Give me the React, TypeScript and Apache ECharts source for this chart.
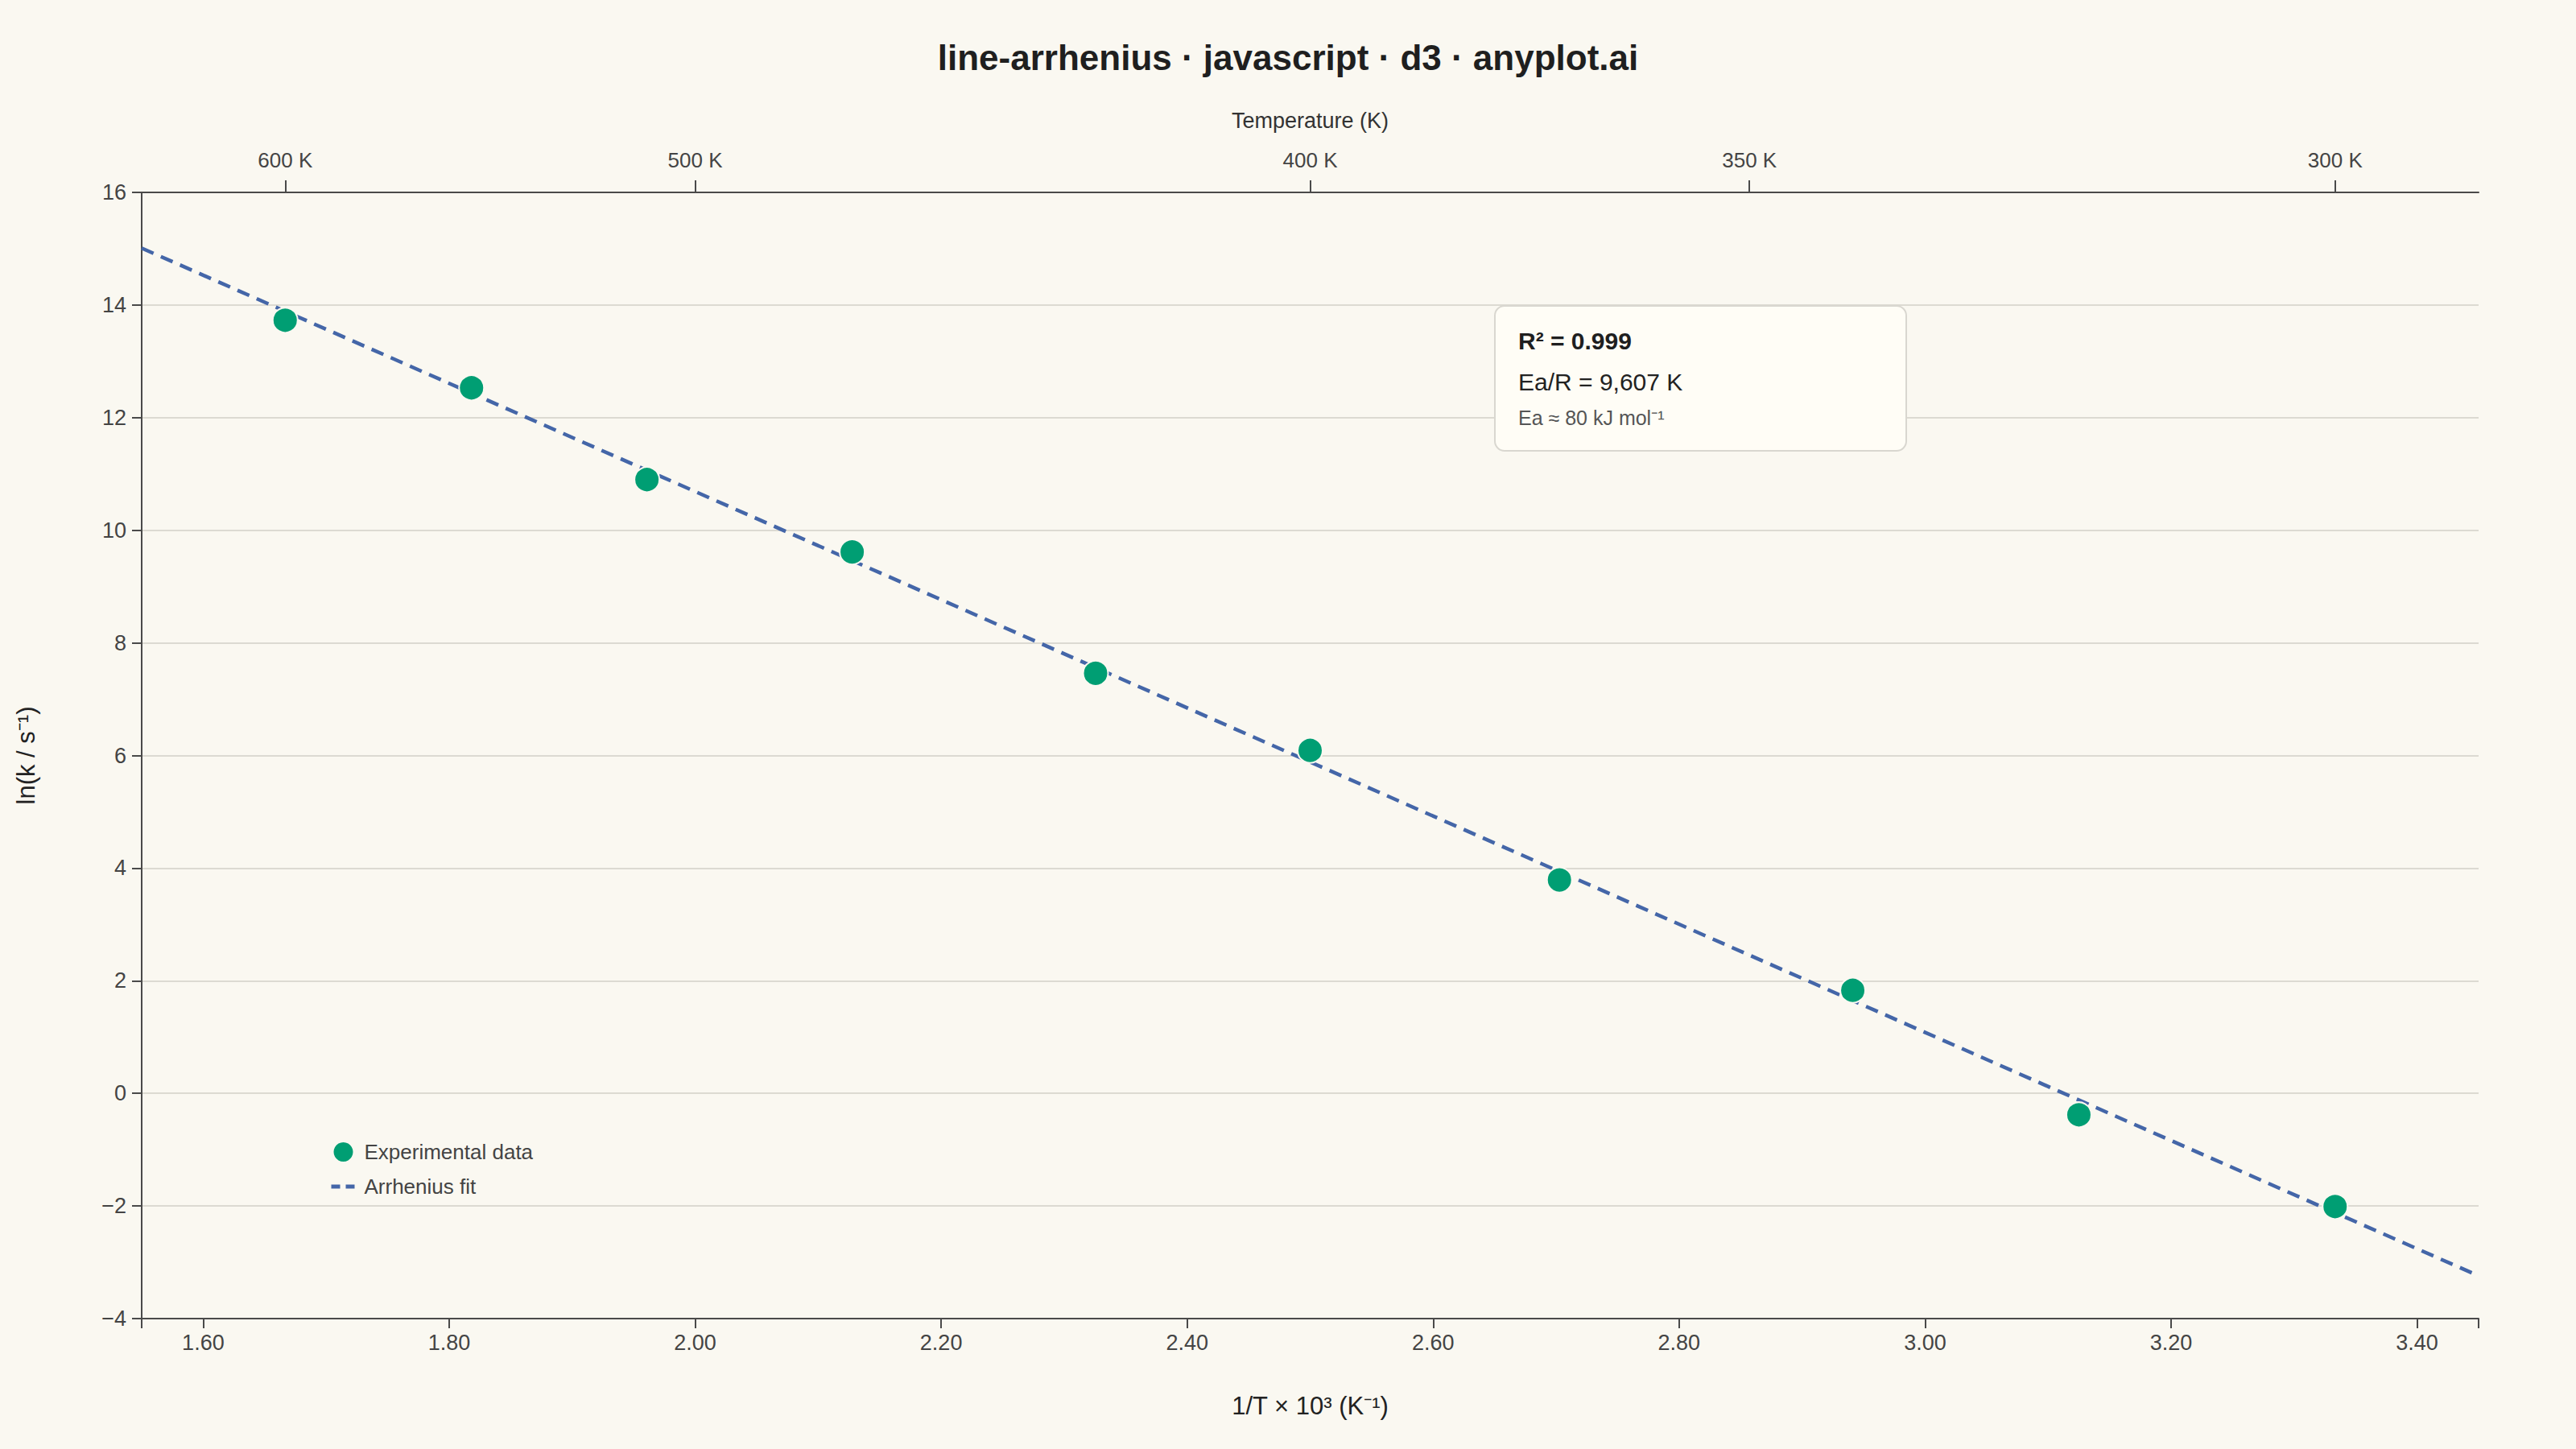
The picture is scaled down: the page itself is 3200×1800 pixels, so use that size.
import React, { useEffect, useRef } from "react";
import * as echarts from "echarts";

// Data
const temperaturesK = [600, 550, 510, 470, 430, 400, 370, 340, 320, 300];
const lnK = [13.73, 12.53, 10.9, 9.615, 7.46, 6.09, 3.79, 1.83, -0.38, -2.01];
const fitX = [1.55, 3.45];
const fitY = [15.01, -3.24];
const bottomTicks = [1.6, 1.8, 2.0, 2.2, 2.4, 2.6, 2.8, 3.0, 3.2, 3.4];
const topTempTicks = [600, 500, 400, 350, 300];
const annotationLines = ["R² = 0.999", "Ea/R = 9,607 K", "Ea ≈ 80 kJ mol⁻¹"];

const FONT = "'Liberation Sans', Arial, Helvetica, sans-serif";
const BG = "#FAF8F1";
const X_MIN = 1.55;
const X_MAX = 3.45;

export default function App() {
  const ref = useRef<HTMLDivElement>(null);
  useEffect(() => {
    document.body.style.margin = "0";
    document.body.style.background = BG;
    const chart = echarts.init(ref.current!, null, { renderer: "svg" });
    const points = temperaturesK.map((t, i) => [1000 / t, lnK[i]]);
    const fitLine = fitX.map((x, i) => [x, fitY[i]]);
    const topVals = topTempTicks.map((t) => 1000 / t);
    chart.setOption({
      animation: false,
      backgroundColor: BG,
      textStyle: { fontFamily: FONT },
      title: {
        text: "line-arrhenius · javascript · d3 · anyplot.ai",
        left: "center",
        top: 44,
        textStyle: { fontFamily: FONT, fontSize: 44, fontWeight: "bold", color: "#1F1F1F" },
      },
      grid: { left: 176, right: 121, top: 239, bottom: 162, containLabel: false },
      legend: {
        orient: "vertical",
        left: 409,
        top: 1418,
        padding: 0,
        itemWidth: 30,
        itemHeight: 24,
        itemGap: 17,
        textStyle: { fontFamily: FONT, fontSize: 26, color: "#444", padding: [0, 0, 0, 6] },
        data: [
          { name: "Experimental data", icon: "circle", itemStyle: { borderWidth: 0 } },
          {
            name: "Arrhenius fit",
            itemStyle: { opacity: 0 },
            lineStyle: { type: [11, 7], width: 5, color: "#4466A8" },
          },
        ],
      },
      xAxis: [
        {
          type: "value",
          position: "bottom",
          min: X_MIN,
          max: X_MAX,
          name: "1/T × 10³ (K⁻¹)",
          nameLocation: "middle",
          nameGap: 93,
          nameTextStyle: { fontFamily: FONT, fontSize: 31, color: "#222" },
          axisLine: { show: true, onZero: false, lineStyle: { color: "#4A4A4A", width: 2 } },
          axisTick: {
            show: true,
            length: 12,
            customValues: [X_MIN, ...bottomTicks, X_MAX],
            lineStyle: { color: "#4A4A4A", width: 2 },
          },
          axisLabel: {
            customValues: bottomTicks,
            margin: 16,
            fontFamily: FONT,
            fontSize: 27,
            color: "#444",
            formatter: (v: number) => v.toFixed(2),
          },
          splitLine: { show: false },
        },
        {
          type: "value",
          position: "top",
          min: X_MIN,
          max: X_MAX,
          name: "Temperature (K)",
          nameLocation: "middle",
          nameGap: 76,
          nameTextStyle: { fontFamily: FONT, fontSize: 27, color: "#333" },
          axisLine: { show: true, onZero: false, lineStyle: { color: "#4A4A4A", width: 2 } },
          axisTick: {
            show: true,
            length: 15,
            customValues: topVals,
            lineStyle: { color: "#4A4A4A", width: 2 },
          },
          axisLabel: {
            customValues: topVals,
            margin: 27,
            fontFamily: FONT,
            fontSize: 26,
            color: "#444",
            formatter: (v: number) => Math.round(1000 / v) + " K",
          },
          splitLine: { show: false },
        },
      ],
      yAxis: {
        type: "value",
        min: -4,
        max: 16,
        interval: 2,
        name: "ln(k / s⁻¹)",
        nameLocation: "middle",
        nameRotate: 90,
        nameGap: 128,
        nameTextStyle: { fontFamily: FONT, fontSize: 31, color: "#222" },
        axisLine: { show: true, onZero: false, lineStyle: { color: "#4A4A4A", width: 2 } },
        axisTick: { show: true, length: 12, lineStyle: { color: "#4A4A4A", width: 2 } },
        axisLabel: {
          margin: 19,
          fontFamily: FONT,
          fontSize: 27,
          color: "#444",
          formatter: (v: number) => (v < 0 ? "−" + Math.abs(v) : String(v)),
        },
        splitLine: { show: true, lineStyle: { color: "#DCDAD2", width: 2 } },
      },
      series: [
        {
          name: "Arrhenius fit",
          type: "line",
          data: fitLine,
          showSymbol: false,
          symbol: "none",
          z: 2,
          lineStyle: { color: "#4466A8", width: 4.5, type: [16, 10] },
          itemStyle: { color: "#4466A8" },
        },
        {
          name: "Experimental data",
          type: "scatter",
          data: points,
          symbolSize: 31,
          z: 3,
          itemStyle: { color: "#009E73", borderColor: BG, borderWidth: 2, opacity: 1 },
        },
      ],
      graphic: [
        {
          type: "rect",
          shape: { x: 1857, y: 380, width: 511, height: 180, r: 12 },
          style: { fill: "#FFFDF6", stroke: "#D9D7D0", lineWidth: 2 },
          z: 10,
        },
        {
          type: "text",
          x: 1886,
          y: 423,
          z: 11,
          style: {
            text: annotationLines[0],
            font: `bold 30px ${FONT}`,
            fill: "#1F1F1F",
            verticalAlign: "middle",
          },
        },
        {
          type: "text",
          x: 1886,
          y: 474,
          z: 11,
          style: {
            text: annotationLines[1],
            font: `30px ${FONT}`,
            fill: "#222",
            verticalAlign: "middle",
          },
        },
        {
          type: "text",
          x: 1886,
          y: 519,
          z: 11,
          style: {
            text: annotationLines[2],
            font: `25px ${FONT}`,
            fill: "#555",
            verticalAlign: "middle",
          },
        },
      ],
    });
    return () => chart.dispose();
  }, []);
  return (
    <div
      ref={ref}
      style={{ position: "absolute", left: 0, top: 0, width: 3200, height: 1800 }}
    />
  );
}
